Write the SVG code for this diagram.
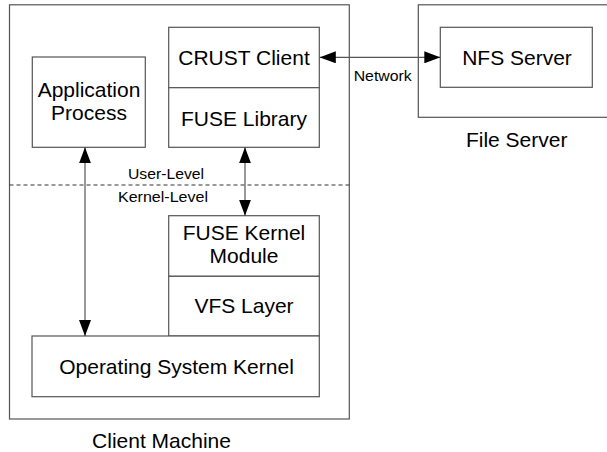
<svg xmlns="http://www.w3.org/2000/svg" width="607" height="452" viewBox="0 0 607 452">
  <style>
    .box { fill: #ffffff; stroke: #555555; stroke-width: 1.2; }
    .frame { fill: none; stroke: #555555; stroke-width: 1.2; }
    .lbl { font-family: "Liberation Sans", Arial, sans-serif; font-size: 21px; fill: #000; text-anchor: middle; }
    .small { font-family: "Liberation Sans", Arial, sans-serif; font-size: 14.5px; fill: #000; text-anchor: middle; }
    .link { fill: none; stroke: #555555; stroke-width: 1.2; }
    .sep { fill: none; stroke: #333333; stroke-width: 1; stroke-dasharray: 4 3; }
  </style>
  <defs>
    <marker id="head" viewBox="0 0 16 12" refX="16" refY="6" markerWidth="16" markerHeight="12" markerUnits="userSpaceOnUse" orient="auto-start-reverse">
      <path d="M0,0 L16,6 L0,12 Z" fill="#000"/>
    </marker>
  </defs>
  <rect width="607" height="452" fill="#ffffff"/>

  <!-- client machine -->
  <g id="client-machine">
    <rect class="frame" x="9.5" y="4.8" width="339.8" height="414.2"/>
    <text class="lbl" x="161.5" y="448">Client Machine</text>
  </g>

  <!-- file server -->
  <g id="file-server">
    <rect class="frame" x="418.3" y="4.8" width="195" height="112.5"/>
    <text class="lbl" x="516.7" y="146.7">File Server</text>
  </g>

  <!-- user / kernel boundary -->
  <g id="boundary">
    <line class="sep" x1="9.5" y1="185" x2="349.3" y2="185"/>
    <text class="small" x="166" y="179" textLength="76" lengthAdjust="spacingAndGlyphs">User-Level</text>
    <text class="small" x="163" y="201.7" textLength="90" lengthAdjust="spacingAndGlyphs">Kernel-Level</text>
  </g>

  <g id="application-process">
    <rect class="box" x="32.3" y="57" width="113" height="90.3"/>
    <text class="lbl" x="89" y="96.7">Application</text>
    <text class="lbl" x="89" y="120">Process</text>
  </g>

  <g id="crust-client">
    <rect class="box" x="168.7" y="27.3" width="150.6" height="60.4"/>
    <text class="lbl" x="244" y="65">CRUST Client</text>
  </g>

  <g id="fuse-library">
    <rect class="box" x="168.7" y="87.7" width="150.6" height="59.6"/>
    <text class="lbl" x="244" y="126">FUSE Library</text>
  </g>

  <g id="fuse-kernel-module">
    <rect class="box" x="168.7" y="215.7" width="150.6" height="60.6"/>
    <text class="lbl" x="244" y="240">FUSE Kernel</text>
    <text class="lbl" x="244" y="263.3">Module</text>
  </g>

  <g id="vfs-layer">
    <rect class="box" x="168.7" y="276.3" width="150.6" height="59.7"/>
    <text class="lbl" x="244" y="313.3">VFS Layer</text>
  </g>

  <g id="os-kernel">
    <rect class="box" x="32" y="336" width="287.3" height="60.7"/>
    <text class="lbl" x="176.5" y="374.3">Operating System Kernel</text>
  </g>

  <g id="nfs-server">
    <rect class="box" x="440.3" y="27.3" width="152" height="60"/>
    <text class="lbl" x="517" y="65">NFS Server</text>
  </g>

  <!-- connectors -->
  <g id="connectors">
    <line class="link" x1="85" y1="147.3" x2="85" y2="336" marker-start="url(#head)" marker-end="url(#head)"/>
    <line class="link" x1="245" y1="147.3" x2="245" y2="215.7" marker-start="url(#head)" marker-end="url(#head)"/>
    <line class="link" x1="319.8" y1="57.3" x2="440.3" y2="57.3" marker-start="url(#head)" marker-end="url(#head)"/>
    <text class="small" x="382.7" y="80.7" textLength="58" lengthAdjust="spacingAndGlyphs">Network</text>
  </g>
</svg>
